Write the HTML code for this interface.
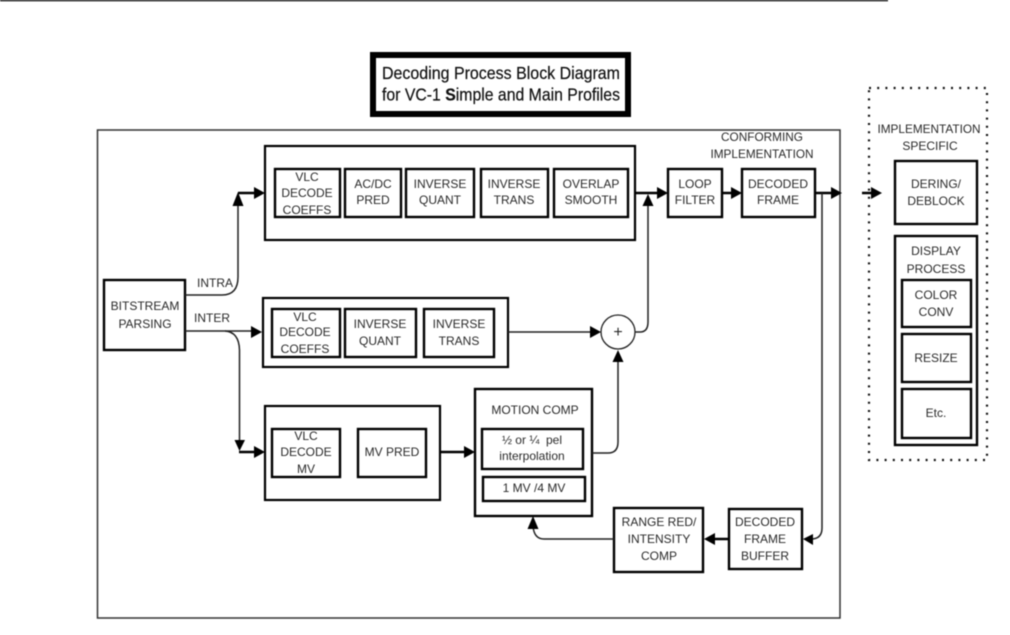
<!DOCTYPE html>
<html><head><meta charset="utf-8"><style>
html,body{margin:0;padding:0;background:#fff;width:1010px;height:635px;overflow:hidden}
svg{display:block;filter:blur(.4px)}
text{font-family:"Liberation Sans",sans-serif;font-size:12px;fill:#2a2a2a;text-anchor:middle;white-space:pre}
.b{fill:#fff;stroke:#000;stroke-width:2.4}
.g{fill:none;stroke:#000;stroke-width:2.2}
.l{fill:none;stroke:#222;stroke-width:1.5}
.t{fill:none;stroke:#000;stroke-width:2.5}
.h{fill:#000;stroke:none}
</style></head><body>
<svg width="1010" height="635" viewBox="0 0 1010 635" xmlns="http://www.w3.org/2000/svg">
<line x1="0" y1="0.5" x2="888" y2="0.5" stroke="#000" stroke-width="1.5"/>
<rect x="373" y="55" width="255" height="59" fill="#fff" stroke="#000" stroke-width="6"/>
<text x="501" y="79" style="font-size:17.5px;stroke:#111;stroke-width:.2;fill:#111" textLength="238" lengthAdjust="spacingAndGlyphs">Decoding Process Block Diagram</text>
<text x="501" y="100.500" style="font-size:17.5px;stroke:#111;stroke-width:.2;fill:#111" textLength="238" lengthAdjust="spacingAndGlyphs">for VC-1 <tspan font-weight="bold">S</tspan>imple and Main Profiles</text>

<rect x="97.5" y="130" width="742.5" height="488" fill="none" stroke="#333" stroke-width="1.5"/>

<text x="762" y="141" style="font-size:11.8px">CONFORMING</text>
<text x="762" y="158" style="font-size:11.8px">IMPLEMENTATION</text>

<!-- groups -->
<rect class="g" x="265" y="146" width="370" height="94"/>
<rect class="g" x="263" y="298" width="245" height="69"/>
<rect class="g" x="265" y="406" width="175" height="94"/>

<!-- group 1 boxes -->
<rect class="b" x="275" y="169" width="65" height="48"/>
<text x="307" y="181">VLC</text><text x="307" y="197">DECODE</text><text x="307" y="214">COEFFS</text>
<rect class="b" x="345" y="169" width="56" height="48"/>
<text x="373" y="188">AC/DC</text><text x="373" y="204">PRED</text>
<rect class="b" x="406" y="169" width="68" height="48"/>
<text x="440" y="188">INVERSE</text><text x="440" y="204">QUANT</text>
<rect class="b" x="481" y="169" width="67" height="48"/>
<text x="514" y="188">INVERSE</text><text x="514" y="204">TRANS</text>
<rect class="b" x="554" y="169" width="74" height="48"/>
<text x="591" y="188">OVERLAP</text><text x="591" y="204">SMOOTH</text>
<rect class="b" x="668" y="169" width="54" height="48"/>
<text x="695" y="188">LOOP</text><text x="695" y="204">FILTER</text>
<rect class="b" x="742" y="169" width="73" height="48"/>
<text x="778" y="188">DECODED</text><text x="778" y="204">FRAME</text>

<!-- bitstream -->
<rect class="b" x="104" y="280" width="81" height="70"/>
<text x="145" y="310">BITSTREAM</text><text x="145" y="328">PARSING</text>
<text x="215" y="287">INTRA</text>
<text x="212" y="322">INTER</text>

<!-- group 2 boxes -->
<rect class="b" x="272" y="309" width="68" height="48"/>
<text x="305" y="321">VLC</text><text x="305" y="336">DECODE</text><text x="305" y="353">COEFFS</text>
<rect class="b" x="345" y="309" width="71" height="48"/>
<text x="380" y="328">INVERSE</text><text x="380" y="345">QUANT</text>
<rect class="b" x="424" y="309" width="70" height="48"/>
<text x="459" y="328">INVERSE</text><text x="459" y="345">TRANS</text>

<circle cx="618" cy="332" r="17" fill="#fff" stroke="#222" stroke-width="1.3"/>
<text x="618" y="337" style="font-size:16px">+</text>

<!-- group 3 boxes -->
<rect class="b" x="272" y="429" width="68" height="48"/>
<text x="306" y="440">VLC</text><text x="306" y="456">DECODE</text><text x="306" y="473">MV</text>
<rect class="b" x="358" y="429" width="68" height="48"/>
<text x="392" y="456">MV PRED</text>

<!-- motion comp -->
<rect class="b" x="475" y="389" width="117" height="127"/>
<text x="535" y="414">MOTION COMP</text>
<rect class="b" x="482" y="429" width="101" height="40"/>
<text x="532" y="444">½ or ¼  pel</text>
<text x="532" y="460">interpolation</text>
<rect class="b" x="483" y="477" width="102" height="24"/>
<text x="534" y="492">1 MV /4 MV</text>

<!-- bottom row -->
<rect class="b" x="614" y="508" width="89" height="64"/>
<text x="659" y="526">RANGE RED/</text><text x="659" y="543">INTENSITY</text><text x="659" y="560">COMP</text>
<rect class="b" x="729" y="509" width="73" height="60"/>
<text x="765" y="526">DECODED</text><text x="765" y="543">FRAME</text><text x="765" y="560">BUFFER</text>

<!-- implementation specific -->
<rect x="869" y="88" width="118" height="372" fill="none" stroke="#111" stroke-width="2.2" stroke-dasharray="2 6.2"/>
<text x="929" y="133" style="font-size:11.8px">IMPLEMENTATION</text>
<text x="930" y="150">SPECIFIC</text>
<rect class="b" x="895" y="161" width="82" height="63"/>
<text x="936" y="188">DERING/</text><text x="936" y="205">DEBLOCK</text>
<rect class="b" x="895" y="236" width="82" height="209"/>
<text x="936" y="255">DISPLAY</text><text x="936" y="273">PROCESS</text>
<rect class="b" x="902" y="280" width="69" height="47"/>
<text x="936" y="299">COLOR</text><text x="936" y="316">CONV</text>
<rect class="b" x="902" y="334" width="69" height="48"/>
<text x="936" y="362">RESIZE</text>
<rect class="b" x="902" y="389" width="69" height="49"/>
<text x="936" y="417">Etc.</text>

<!-- connectors -->
<path class="l" d="M185 295H222Q238 295 238 277V200"/>
<path class="t" d="M238 193H258"/>
<path class="h" d="M238 192L232.500 206H243.500Z M265 193L254 187V199Z"/>

<path class="l" d="M185 331H255"/>
<path class="l" d="M225 331Q239 332 239.500 350V442"/>
<path class="h" d="M262 332L251 326V338Z M239.500 451L234.500 440H245Z"/>
<path class="t" d="M239 452H258"/>
<path class="h" d="M265 452L254 446V458Z"/>

<path class="l" d="M508 332H594"/>
<path class="h" d="M601 332L590 326V338Z"/>
<path class="l" d="M635 332H640Q648 332 648 322V200"/>
<path class="h" d="M648 194L642.500 206H653.500Z"/>
<path class="t" d="M635 193H660"/>
<path class="h" d="M668 193L657 187V199Z"/>
<path class="t" d="M722 193H734"/>
<path class="h" d="M742 193L731 187V199Z"/>
<path class="t" d="M815 193H834"/>
<path class="h" d="M842 193L831 187V199Z"/>
<path class="l" d="M822 193V528Q822 539 811 539H808"/>
<path class="h" d="M803 539L813 534V545Z"/>
<path class="t" d="M729 539H712"/>
<path class="h" d="M704 539L715 533V545Z"/>
<path class="l" d="M614 539H544Q534 539 533 526"/>
<path class="h" d="M533 516L527.500 529H538.500Z"/>
<path class="t" d="M440 452H467"/>
<path class="h" d="M475 452L464 446V458Z"/>
<path class="l" d="M592 453H608Q618 453 618 442V358"/>
<path class="h" d="M618 350L612.500 362H623.500Z"/>
<path class="t" d="M862 193H873"/>
<path class="h" d="M882 193L871 187V199Z"/>
</svg>
</body></html>
